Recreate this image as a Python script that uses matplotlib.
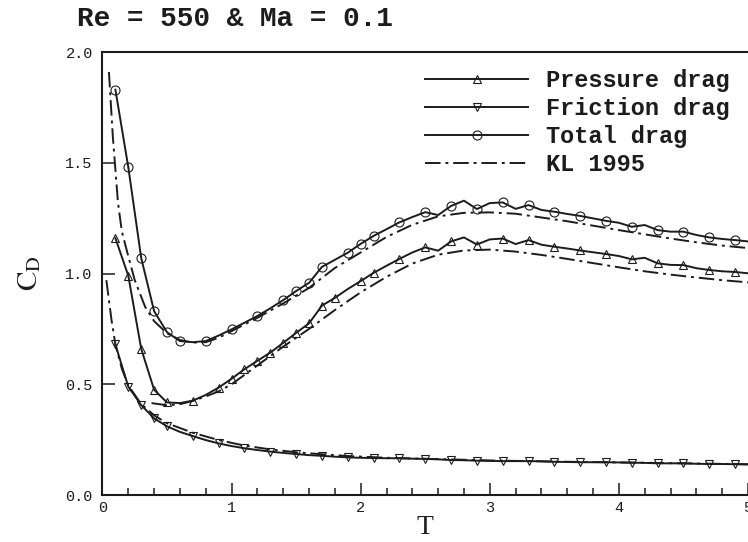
import matplotlib
matplotlib.use('Agg')
import matplotlib.pyplot as plt
import numpy as np

plt.rcParams['mathtext.fontset'] = 'stix'

# time samples of the simulation (T = 0.1 ... 5.0)
t = [0.1, 0.2, 0.3, 0.4, 0.5, 0.6, 0.7, 0.8, 0.9, 1.0,
     1.1, 1.2, 1.3, 1.4, 1.5, 1.6, 1.7, 1.8, 1.9, 2.0,
     2.1, 2.2, 2.3, 2.4, 2.5, 2.6, 2.7, 2.8, 2.9, 3.0,
     3.1, 3.2, 3.3, 3.4, 3.5, 3.6, 3.7, 3.8, 3.9, 4.0,
     4.1, 4.2, 4.3, 4.4, 4.5, 4.6, 4.7, 4.8, 4.9, 5.0]

pressure = [1.16, 0.99, 0.66, 0.475, 0.418, 0.415, 0.426, 0.452, 0.485, 0.525,
            0.568, 0.606, 0.643, 0.687, 0.732, 0.775, 0.855, 0.89, 0.93, 0.966,
            1.003, 1.035, 1.066, 1.095, 1.118, 1.103, 1.145, 1.163, 1.131, 1.154,
            1.158, 1.133, 1.151, 1.13, 1.121, 1.113, 1.104, 1.096, 1.088, 1.079,
            1.064, 1.071, 1.046, 1.039, 1.038, 1.024, 1.016, 1.010, 1.007, 1.001]

friction = [0.68, 0.489, 0.406, 0.346, 0.31, 0.285, 0.266, 0.248, 0.233, 0.221,
            0.211, 0.203, 0.196, 0.19, 0.185, 0.18, 0.177, 0.173, 0.17, 0.168,
            0.167, 0.166, 0.166, 0.164, 0.163, 0.161, 0.158, 0.157, 0.155, 0.154,
            0.153, 0.153, 0.153, 0.152, 0.15, 0.149, 0.148, 0.148, 0.148, 0.147,
            0.146, 0.145, 0.143, 0.143, 0.143, 0.141, 0.14, 0.14, 0.139, 0.138]

total = [1.83, 1.48, 1.07, 0.83, 0.735, 0.695, 0.69, 0.695, 0.72, 0.748,
         0.778, 0.808, 0.843, 0.88, 0.921, 0.958, 1.03, 1.062, 1.094, 1.134,
         1.17, 1.2, 1.231, 1.255, 1.277, 1.264, 1.305, 1.329, 1.291, 1.318,
         1.321, 1.292, 1.309, 1.287, 1.279, 1.269, 1.26, 1.249, 1.238, 1.229,
         1.211, 1.219, 1.196, 1.189, 1.189, 1.174, 1.163, 1.156, 1.151, 1.145]

# T values that carry a symbol
pressure_marks = [0.1, 0.2, 0.3, 0.4, 0.5, 0.7, 0.9, 1.0, 1.1, 1.2, 1.3, 1.4, 1.5,
                  1.6, 1.7, 1.8, 2.0, 2.1, 2.3, 2.5, 2.7, 2.9, 3.1, 3.3, 3.5, 3.7,
                  3.9, 4.1, 4.3, 4.5, 4.7, 4.9]
friction_marks = [0.1, 0.2, 0.3, 0.4, 0.5, 0.7, 0.9, 1.1, 1.3, 1.5, 1.7, 1.9, 2.1,
                  2.3, 2.5, 2.7, 2.9, 3.1, 3.3, 3.5, 3.7, 3.9, 4.1, 4.3, 4.5, 4.7, 4.9]
total_marks = [0.1, 0.2, 0.3, 0.4, 0.5, 0.6, 0.8, 1.0, 1.2, 1.4, 1.5, 1.6, 1.7,
               1.9, 2.0, 2.1, 2.3, 2.5, 2.7, 2.9, 3.1, 3.3, 3.5, 3.7, 3.9, 4.1,
               4.3, 4.5, 4.7, 4.9]

# KL 1995 reference curves
kl_total_t = [0.05, 0.08, 0.12, 0.15, 0.19, 0.25, 0.33, 0.4, 0.5, 0.6, 0.7, 0.8,
              0.9, 1.0, 1.2, 1.4, 1.6, 1.8, 2.0, 2.2, 2.4, 2.6, 2.8, 3.0, 3.2,
              3.4, 3.6, 3.8, 4.0, 4.2, 4.4, 4.6, 4.8, 5.0]
kl_total = [1.91, 1.62, 1.32, 1.19, 1.10, 0.97, 0.85, 0.785, 0.73, 0.70, 0.688, 0.69,
            0.71, 0.74, 0.80, 0.865, 0.935, 1.025, 1.095, 1.165, 1.22, 1.258, 1.274,
            1.276, 1.27, 1.253, 1.236, 1.216, 1.196, 1.177, 1.158, 1.141, 1.126, 1.115]

kl_pressure_t = [0.38, 0.5, 0.6, 0.7, 0.8, 0.9, 1.0, 1.2, 1.4, 1.6, 1.8, 2.0, 2.2,
                 2.4, 2.6, 2.8, 3.0, 3.2, 3.4, 3.6, 3.8, 4.0, 4.2, 4.4, 4.6, 4.8, 5.0]
kl_pressure = [0.415, 0.405, 0.41, 0.425, 0.445, 0.468, 0.50, 0.585, 0.67, 0.75,
               0.835, 0.915, 0.985, 1.045, 1.085, 1.104, 1.108, 1.099, 1.084, 1.066,
               1.047, 1.028, 1.010, 0.995, 0.982, 0.970, 0.960]

kl_friction_t = [0.03, 0.07, 0.1, 0.15, 0.2, 0.3, 0.4, 0.5, 0.7, 0.9, 1.1, 1.3, 1.5,
                 1.7, 1.9, 2.2, 2.6, 3.0, 3.5, 4.0, 4.5, 5.0]
kl_friction = [0.97, 0.79, 0.68, 0.57, 0.495, 0.41, 0.36, 0.324, 0.281, 0.248, 0.223,
               0.206, 0.193, 0.184, 0.176, 0.168, 0.162, 0.156, 0.151, 0.147, 0.143,
               0.139]

ink = '#1c1c1c'
mono = 'Liberation Mono'
dashdot = (8, 2.5, 1.5, 2.5)

fig = plt.figure(figsize=(7.48, 5.42), dpi=100)
ax = fig.add_axes([0.137, 0.0867, 0.863, 0.8173])

tr = np.round(np.array(t), 1)


def marks(vals):
    return list(np.isin(tr, np.round(vals, 1)))


ax.plot(t, pressure, color=ink, lw=1.4, marker='^', ms=5.5, mfc='none', mec=ink,
        mew=0.8, markevery=marks(pressure_marks), label='Pressure drag')
ax.plot(t, friction, color=ink, lw=1.4, marker='v', ms=5.5, mfc='none', mec=ink,
        mew=0.8, markevery=marks(friction_marks), label='Friction drag')
ax.plot(t, total, color=ink, lw=1.4, marker='o', ms=6.5, mfc='none', mec=ink,
        mew=0.8, markevery=marks(total_marks), label='Total drag')
ax.plot(kl_total_t, kl_total, color=ink, lw=1.4, dashes=dashdot, label='KL 1995')
ax.plot(kl_pressure_t, kl_pressure, color=ink, lw=1.4, dashes=dashdot)
ax.plot(kl_friction_t, kl_friction, color=ink, lw=1.4, dashes=dashdot)

ax.set_xlim(0, 5)
ax.set_ylim(0, 2)
ax.set_xticks([0, 1, 2, 3, 4, 5])
ax.set_xticks(np.arange(0, 5.01, 0.2), minor=True)
ax.set_yticks([0, 0.5, 1.0, 1.5, 2.0])
ax.set_yticklabels(['0.0', '0.5', '1.0', '1.5', '2.0'])
ax.tick_params(which='major', direction='in', length=9, width=1.1, color=ink,
               labelsize=11, labelcolor=ink)
ax.tick_params(axis='y', pad=7)
ax.tick_params(axis='x', pad=4)
ax.tick_params(which='minor', direction='in', length=5, width=1.1, color=ink)
for lab in ax.get_xticklabels() + ax.get_yticklabels():
    lab.set_family(mono)

for side in ['left', 'bottom', 'top']:
    ax.spines[side].set_linewidth(1.5)
    ax.spines[side].set_color(ink)
ax.spines['right'].set_visible(False)

ax.set_xlabel('T', family='Liberation Serif', fontsize=20, color=ink, labelpad=0)
ax.set_ylabel(r'$\mathrm{C_D}$', fontsize=21, color=ink)
ax.yaxis.set_label_coords(-0.092, 0.5)

fig.text(0.103, 0.965, 'Re = 550 & Ma = 0.1', family=mono, weight='bold',
         fontsize=20, color=ink, va='center', ha='left')

leg = ax.legend(loc='upper left', bbox_to_anchor=(0.50, 0.962), frameon=False,
                prop={'family': mono, 'weight': 'bold', 'size': 17},
                handlelength=4.35, handletextpad=0.75, labelspacing=0.22,
                borderpad=0, borderaxespad=0)
for txt in leg.get_texts():
    txt.set_color(ink)

fig.savefig('out.png', dpi=100)
